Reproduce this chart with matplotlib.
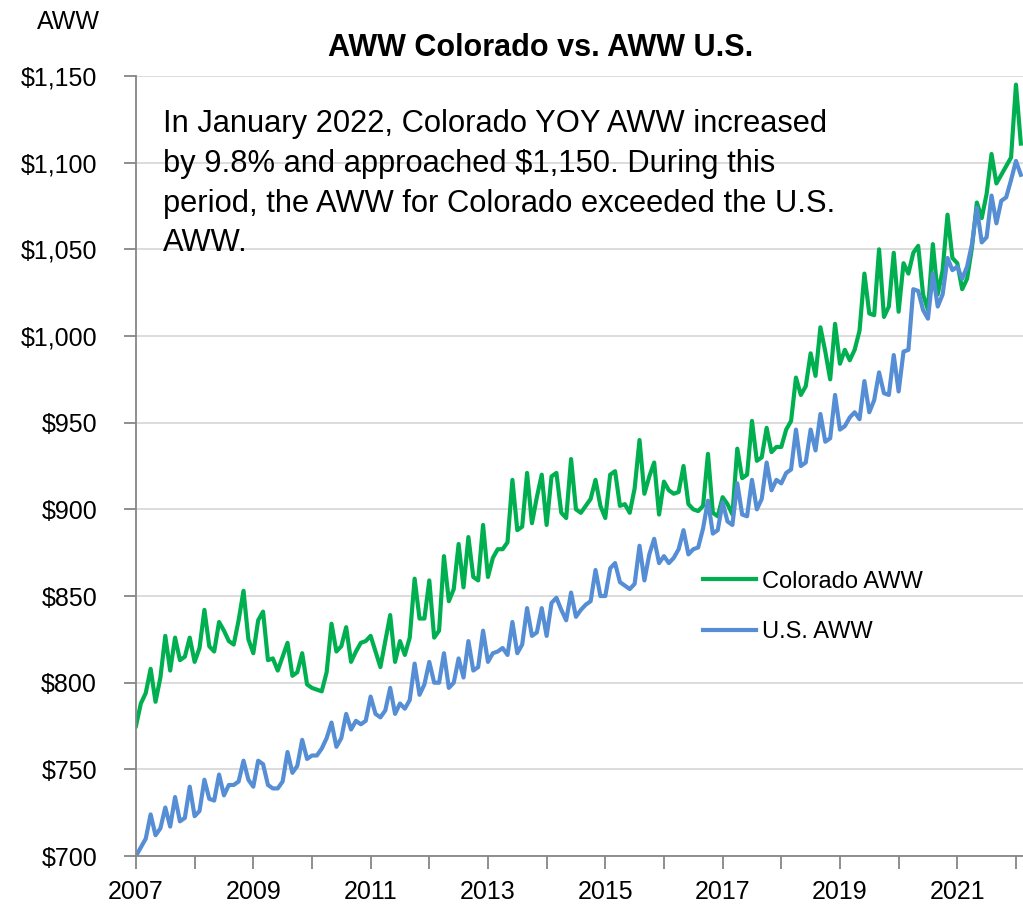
from __future__ import annotations

from pathlib import Path

import matplotlib

matplotlib.use("Agg")
import matplotlib.pyplot as plt
from matplotlib.ticker import FixedLocator, FuncFormatter

PNG_PATH = Path("out.png")

START_YEAR = 2007
# monthly values, Jan 2007 .. Feb 2022
COLORADO_AWW = [
    775, 788, 794, 808, 789, 803, 827, 807, 826, 813, 815, 826,
    812, 820, 842, 821, 818, 835, 830, 824, 822, 836, 853, 825,
    817, 836, 841, 813, 814, 807, 815, 823, 804, 806, 817, 799,
    797, 796, 795, 806, 834, 818, 821, 832, 812, 818, 823, 824,
    827, 818, 809, 824, 839, 812, 824, 816, 826, 860, 837, 837,
    859, 826, 830, 873, 847, 854, 880, 855, 884, 861, 859, 891,
    861, 872, 877, 877, 881, 917, 888, 890, 921, 892, 907, 920,
    891, 919, 921, 898, 895, 929, 900, 898, 902, 906, 917, 902,
    895, 920, 922, 902, 903, 898, 912, 940, 909, 919, 927, 897,
    916, 911, 909, 910, 925, 903, 900, 899, 902, 932, 898, 896,
    907, 903, 897, 935, 918, 920, 951, 928, 930, 947, 933, 936,
    936, 946, 951, 976, 966, 971, 990, 977, 1005, 991, 975, 1007,
    984, 992, 986, 992, 1003, 1036, 1013, 1012, 1050, 1011, 1017, 1048,
    1014, 1042, 1036, 1048, 1052, 1024, 1015, 1053, 1024, 1038, 1070, 1045,
    1042, 1027, 1033, 1051, 1077, 1068, 1082, 1105, 1088, 1093, 1098, 1103,
    1145, 1111,
]
US_AWW = [
    700, 705, 710, 724, 712, 716, 728, 717, 734, 720, 722, 740,
    723, 726, 744, 733, 732, 747, 735, 741, 741, 743, 755, 744,
    740, 755, 753, 741, 739, 739, 743, 760, 748, 752, 767, 756,
    758, 758, 762, 768, 777, 763, 768, 782, 773, 778, 776, 778,
    792, 782, 780, 784, 797, 782, 788, 785, 790, 811, 793, 799,
    812, 800, 800, 817, 797, 800, 814, 803, 824, 807, 809, 830,
    812, 817, 818, 820, 816, 835, 817, 822, 843, 827, 829, 843,
    827, 846, 849, 842, 836, 852, 838, 842, 845, 847, 865, 850,
    850, 866, 869, 858, 856, 854, 857, 879, 859, 874, 883, 869,
    873, 869, 872, 877, 888, 874, 877, 878, 889, 905, 886, 888,
    904, 893, 891, 915, 897, 896, 917, 900, 906, 927, 911, 917,
    915, 921, 923, 946, 925, 927, 946, 934, 955, 939, 941, 966,
    946, 948, 953, 956, 952, 974, 956, 963, 979, 967, 966, 989,
    968, 991, 992, 1027, 1026, 1015, 1010, 1036, 1017, 1024, 1045, 1038,
    1040, 1033, 1040, 1053, 1074, 1054, 1057, 1081, 1065, 1078, 1080, 1090,
    1101, 1093,
]
YEAR_LABELS = [2007, 2009, 2011, 2013, 2015, 2017, 2019, 2021]
Y_TICKS = [700, 750, 800, 850, 900, 950, 1000, 1050, 1100, 1150]

TITLE = "AWW Colorado vs. AWW U.S."
NOTE = (
    "In January 2022, Colorado YOY AWW increased\n"
    "by 9.8% and approached $1,150. During this\n"
    "period, the AWW for Colorado exceeded the U.S.\n"
    "AWW."
)

GREEN = "#00B050"
BLUE = "#558ED5"


def render_plot(png_path: Path = PNG_PATH) -> None:
    plt.rcParams["font.family"] = ["Liberation Sans", "DejaVu Sans"]
    months = [START_YEAR + i / 12 for i in range(len(COLORADO_AWW))]

    fig = plt.figure(figsize=(10.23, 9.10), dpi=100)
    ax = fig.add_axes([0.1329, 0.0593, 0.8671, 0.8572])
    ax.plot(months, COLORADO_AWW, color=GREEN, lw=3.0, label="Colorado AWW", solid_joinstyle="round")
    ax.plot(months, US_AWW, color=BLUE, lw=3.0, label="U.S. AWW", solid_joinstyle="round")

    ax.set_xlim(2007, 2022.12)
    ax.set_ylim(700, 1150)
    ax.xaxis.set_major_locator(FixedLocator(YEAR_LABELS))
    ax.xaxis.set_minor_locator(FixedLocator([y + 1 for y in YEAR_LABELS]))
    ax.yaxis.set_major_locator(FixedLocator(Y_TICKS))
    ax.yaxis.set_major_formatter(FuncFormatter(lambda v, _: f"${v:,.0f}"))
    ax.tick_params(axis="both", which="both", direction="out", length=9, width=1.3,
                   color="#868686", labelsize=18)
    ax.tick_params(axis="y", pad=19)
    ax.tick_params(axis="x", pad=8)
    ax.grid(axis="y", color="#D9D9D9", lw=1.3)
    ax.set_axisbelow(True)
    for side in ("top", "right"):
        ax.spines[side].set_visible(False)
    for side in ("left", "bottom"):
        ax.spines[side].set_color("#868686")
        ax.spines[side].set_linewidth(1.3)

    fig.text(0.528, 0.947, TITLE, ha="center", va="center", fontsize=22, fontweight="bold")
    fig.text(0.098, 0.976, "AWW", ha="right", va="center", fontsize=18)
    fig.text(0.159, 0.798, NOTE, ha="left", va="center", fontsize=22.2, linespacing=1.42)

    ax.legend(loc="upper left", bbox_to_anchor=(0.629, 0.378), frameon=False, fontsize=17,
              handlelength=2.25, handletextpad=0.25, labelspacing=1.22, borderaxespad=0)

    fig.savefig(png_path, dpi=100)
    plt.close(fig)


def main() -> None:
    render_plot()
    print(f"Wrote {PNG_PATH}")


if __name__ == "__main__":
    main()
